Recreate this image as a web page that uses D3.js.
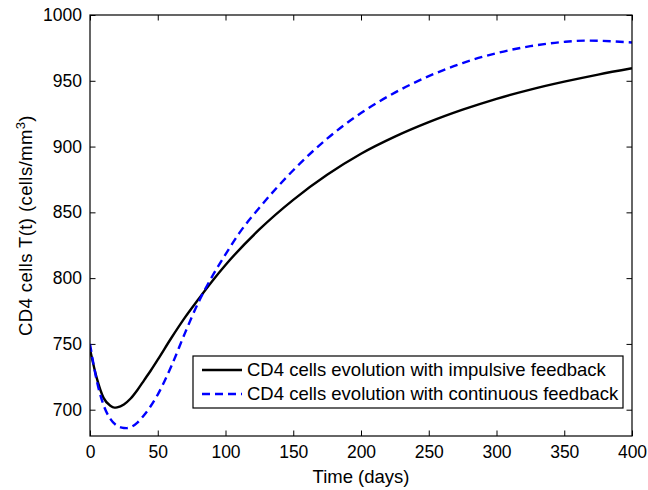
<!DOCTYPE html>
<html>
<head>
<meta charset="utf-8">
<script src="https://cdn.jsdelivr.net/npm/d3@7"></script>
<style>
  body { margin: 0; background: #fff; }
  text { font-family: "Liberation Sans", Arial, Helvetica, sans-serif; fill: #000; }
</style>
</head>
<body>
<svg width="648" height="490"></svg>
<script>
// time points (days) and CD4 counts
var impulsiveT = [0, 5, 10, 15, 18, 20, 25, 30, 35, 40, 45, 50, 60, 70, 80, 90, 100, 125, 150, 175, 200, 225, 250, 275, 300, 325, 350, 375, 400];
var impulsiveV = [746, 724, 709, 703, 701.6, 701.8, 704, 708.5, 715, 722.5, 730, 738, 754.5, 770, 784, 797.5, 810, 837, 859.5, 878.5, 894.5, 907.5, 918.5, 928, 936.3, 943.3, 949.3, 954.7, 959.5];
var continuousT = [0, 5, 10, 15, 20, 25, 27, 30, 35, 40, 45, 50, 60, 70, 80, 90, 100, 110, 125, 150, 175, 200, 225, 250, 275, 300, 325, 350, 365, 375, 400];
var continuousV = [750, 722, 703.5, 693, 687.8, 686.1, 686, 686.7, 690.2, 696, 703, 711.5, 733, 758, 781.5, 801, 818, 834, 853.5, 882, 906, 925.5, 941, 953.5, 963.5, 971, 976.3, 979.6, 980.5, 980.4, 979.1];
var seriesNames = ["CD4 cells evolution with impulsive feedback", "CD4 cells evolution with continuous feedback"];
var xTicks = [0, 50, 100, 150, 200, 250, 300, 350, 400];
var yTicks = [700, 750, 800, 850, 900, 950, 1000];

var svg = d3.select("svg"),
    margin = {top: 15, right: 16, bottom: 54, left: 90},
    width = +svg.attr("width") - margin.left - margin.right,
    height = +svg.attr("height") - margin.top - margin.bottom,
    g = svg.append("g").attr("transform", "translate(" + margin.left + "," + margin.top + ")");

var x = d3.scaleLinear().domain([0, 400]).range([0, width]);
var y = d3.scaleLinear().domain([680, 1000]).range([height, 0]);

var tickLen = 5.5;
var fmt = d3.format("d");

// ticks on all four sides, pointing inward (matlab box)
g.append("g")
    .attr("transform", "translate(0," + height + ")")
    .call(d3.axisBottom(x).tickValues(xTicks).tickSize(-tickLen).tickPadding(10).tickFormat(fmt))
    .call(function (a) { a.select(".domain").remove(); });
g.append("g")
    .call(d3.axisTop(x).tickValues(xTicks).tickSize(-tickLen).tickFormat(""))
    .call(function (a) { a.select(".domain").remove(); });
g.append("g")
    .call(d3.axisLeft(y).tickValues(yTicks).tickSize(-tickLen).tickPadding(8).tickFormat(fmt))
    .call(function (a) { a.select(".domain").remove(); });
g.append("g")
    .attr("transform", "translate(" + width + ",0)")
    .call(d3.axisRight(y).tickValues(yTicks).tickSize(-tickLen).tickFormat(""))
    .call(function (a) { a.select(".domain").remove(); });

g.selectAll(".tick line").attr("stroke", "#000").attr("stroke-width", 1);
g.selectAll(".tick text").style("font-size", "17.5px").attr("fill", "#000");

g.append("defs").append("clipPath").attr("id", "clip")
    .append("rect").attr("width", width).attr("height", height);

var line = d3.line()
    .x(function (d) { return x(d[0]); })
    .y(function (d) { return y(d[1]); })
    .curve(d3.curveMonotoneX);

var impulsive = impulsiveT.map(function (t, i) { return [t, impulsiveV[i]]; });
var continuous = continuousT.map(function (t, i) { return [t, continuousV[i]]; });

g.append("path")
    .datum(impulsive)
    .attr("clip-path", "url(#clip)")
    .attr("fill", "none")
    .attr("stroke", "#000")
    .attr("stroke-width", 2.4)
    .attr("d", line);

g.append("path")
    .datum(continuous)
    .attr("clip-path", "url(#clip)")
    .attr("fill", "none")
    .attr("stroke", "#0000ff")
    .attr("stroke-width", 2.4)
    .attr("stroke-dasharray", "8,5")
    .attr("d", line);

// axes box
g.append("rect")
    .attr("width", width)
    .attr("height", height)
    .attr("fill", "none")
    .attr("stroke", "#000")
    .attr("stroke-width", 1.2);

// axis labels
svg.append("text")
    .attr("x", margin.left + width / 2)
    .attr("y", 483)
    .attr("text-anchor", "middle")
    .style("font-size", "18.5px")
    .text("Time (days)");

var yl = svg.append("text")
    .attr("transform", "translate(32," + (margin.top + height / 2) + ") rotate(-90)")
    .attr("text-anchor", "middle")
    .style("font-size", "18.5px")
    .style("letter-spacing", "0.4px");
yl.append("tspan").text("CD4 cells T(t) (cells/mm");
yl.append("tspan").attr("dy", -7).style("font-size", "13px").text("3");
yl.append("tspan").attr("dy", 7).text(")");

// legend
var legend = svg.append("g").attr("transform", "translate(193,356)");
legend.append("rect")
    .attr("width", 430)
    .attr("height", 52)
    .attr("fill", "#fff")
    .attr("stroke", "#000")
    .attr("stroke-width", 1.2);
var styles = [{color: "#000", dash: null}, {color: "#0000ff", dash: "8,5"}];
seriesNames.forEach(function (name, i) {
    var row = legend.append("g").attr("transform", "translate(0," + (14 + i * 24) + ")");
    row.append("line")
        .attr("x1", 9).attr("x2", 49)
        .attr("stroke", styles[i].color)
        .attr("stroke-width", 2.4)
        .attr("stroke-dasharray", styles[i].dash);
    row.append("text")
        .attr("x", 54)
        .attr("dy", "0.35em")
        .style("font-size", "18.5px")
        .text(name);
});
</script>
</body>
</html>
